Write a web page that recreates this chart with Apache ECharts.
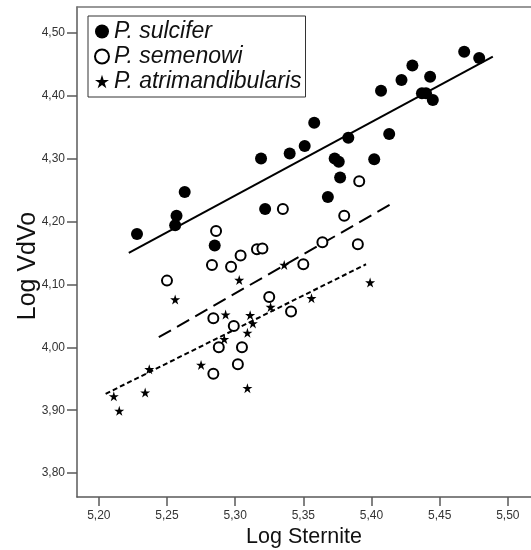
<!DOCTYPE html>
<html>
<head>
<meta charset="utf-8">
<script src="https://cdn.jsdelivr.net/npm/echarts@6/dist/echarts.min.js"></script>
<style>
html,body{margin:0;padding:0;background:#fff;}
#chart{width:531px;height:550px;}
</style>
</head>
<body>
<div id="chart"></div>
<script>
// ---- data ----
var sulciferX = [5.468,5.479,5.430,5.422,5.443,5.407,5.437,5.440,5.445,5.358,5.413,5.383,5.319,5.340,5.263,5.257,5.256,5.228,5.322,5.285,5.351,5.373,5.376,5.402,5.377,5.368];
var sulciferY = [4.470,4.460,4.448,4.425,4.430,4.408,4.404,4.404,4.393,4.357,4.339,4.333,4.300,4.308,4.247,4.209,4.194,4.180,4.220,4.162,4.320,4.300,4.295,4.299,4.270,4.239];

var semenowiX = [5.391,5.335,5.286,5.316,5.320,5.304,5.283,5.297,5.380,5.364,5.390,5.350,5.250,5.325,5.341,5.284,5.299,5.288,5.305,5.302,5.284];
var semenowiY = [4.264,4.220,4.185,4.156,4.157,4.146,4.131,4.128,4.209,4.167,4.164,4.132,4.106,4.080,4.057,4.046,4.034,4.000,4.000,3.973,3.958];

var atriX = [5.336,5.303,5.256,5.293,5.311,5.313,5.326,5.292,5.309,5.275,5.237,5.309,5.234,5.211,5.215,5.356,5.399];
var atriY = [4.131,4.107,4.076,4.052,4.051,4.038,4.064,4.013,4.023,3.972,3.965,3.935,3.928,3.922,3.899,4.078,4.103];

var fitSulciferX = [5.222, 5.489], fitSulciferY = [4.150, 4.462];
var fitSemenowiX = [5.244, 5.417], fitSemenowiY = [4.016, 4.231];
var fitAtriX = [5.205, 5.396], fitAtriY = [3.926, 4.132];

var seriesNames = ['P. sulcifer', 'P. semenowi', 'P. atrimandibularis'];
var xTicks = [5.20, 5.25, 5.30, 5.35, 5.40, 5.45, 5.50];
var yTicks = [3.80, 3.90, 4.00, 4.10, 4.20, 4.30, 4.40, 4.50];
var xName = 'Log Sternite';
var yName = 'Log VdVo';

// ---- helpers ----
function zip(xs, ys) { return xs.map(function (x, i) { return [x, ys[i]]; }); }
function fmt(v) { return v.toFixed(2).replace('.', ','); }
var starPath = 'path://M50,0 L61.2,34.5 L97.6,34.5 L68.2,55.9 L79.4,90.5 L50,69.1 L20.6,90.5 L31.8,55.9 L2.4,34.5 L38.8,34.5 Z';
var FONT = '"Liberation Sans", Arial, sans-serif';
var axisColor = '#5a5a5a';

var chart = echarts.init(document.getElementById('chart'), null, {renderer: 'canvas'});

var option = {
  backgroundColor: '#ffffff',
  animation: false,
  grid: {left: 77, top: 7, right: 0, bottom: 53, containLabel: false, outerBoundsMode: 'none'},
  legend: {
    orient: 'vertical',
    left: 88, top: 16,
    padding: [4, 4, 4, 6],
    itemGap: 2,
    itemWidth: 14, itemHeight: 14,
    borderColor: '#333', borderWidth: 1,
    backgroundColor: '#fff',
    data: seriesNames,
    textStyle: {fontFamily: FONT, fontStyle: 'italic', fontSize: 23, lineHeight: 23, color: '#111'}
  },
  xAxis: [{
    type: 'value', min: 5.184, max: 5.517,
    name: xName, nameLocation: 'middle', nameGap: 29, nameMoveOverlap: false,
    nameTextStyle: {fontFamily: FONT, fontSize: 21.5, color: '#111'},
    axisLine: {show: true, onZero: false, lineStyle: {color: axisColor, width: 1.5}},
    axisTick: {show: true, length: 9, customValues: xTicks, lineStyle: {color: axisColor, width: 1.5}},
    axisLabel: {show: true, margin: 13, customValues: xTicks, formatter: fmt,
      fontFamily: FONT, fontSize: 12, color: '#333'},
    splitLine: {show: false}
  }, {
    type: 'value', position: 'top', min: 5.184, max: 5.517,
    axisLine: {show: true, onZero: false, lineStyle: {color: '#777', width: 1.5}},
    axisTick: {show: false}, axisLabel: {show: false}, splitLine: {show: false}
  }],
  yAxis: {
    type: 'value', min: 3.762, max: 4.541,
    name: yName, nameLocation: 'middle', nameGap: 36, nameRotate: 90, nameMoveOverlap: false,
    nameTextStyle: {fontFamily: FONT, fontSize: 25, color: '#111', padding: [0, 28, 0, 0]},
    axisLine: {show: true, onZero: false, lineStyle: {color: axisColor, width: 1.5}},
    axisTick: {show: true, length: 10, customValues: yTicks, lineStyle: {color: axisColor, width: 1.5}},
    axisLabel: {show: true, margin: 12, customValues: yTicks, formatter: fmt,
      fontFamily: FONT, fontSize: 12, color: '#333'},
    splitLine: {show: false}
  },
  series: [
    {
      name: seriesNames[0], type: 'scatter', data: zip(sulciferX, sulciferY),
      symbol: 'circle', symbolSize: 12,
      itemStyle: {color: '#000', opacity: 1}, z: 3
    },
    {
      name: seriesNames[1], type: 'scatter', data: zip(semenowiX, semenowiY),
      symbol: 'emptyCircle', symbolSize: 10,
      itemStyle: {color: '#000', borderColor: '#000', borderWidth: 1.8, opacity: 1}, z: 3
    },
    {
      name: seriesNames[2], type: 'scatter', data: zip(atriX, atriY),
      symbol: starPath, symbolSize: 10,
      itemStyle: {color: '#000', opacity: 1}, z: 3
    },
    {
      type: 'line', data: zip(fitSulciferX, fitSulciferY), symbol: 'none', silent: true,
      lineStyle: {color: '#000', width: 2, type: 'solid'}, z: 2
    },
    {
      type: 'line', data: zip(fitSemenowiX, fitSemenowiY), symbol: 'none', silent: true,
      lineStyle: {color: '#000', width: 2, type: [14, 7]}, z: 2
    },
    {
      type: 'line', data: zip(fitAtriX, fitAtriY), symbol: 'none', silent: true,
      lineStyle: {color: '#000', width: 2, type: [5, 3]}, z: 2
    }
  ]
};
chart.setOption(option);
</script>
</body>
</html>
